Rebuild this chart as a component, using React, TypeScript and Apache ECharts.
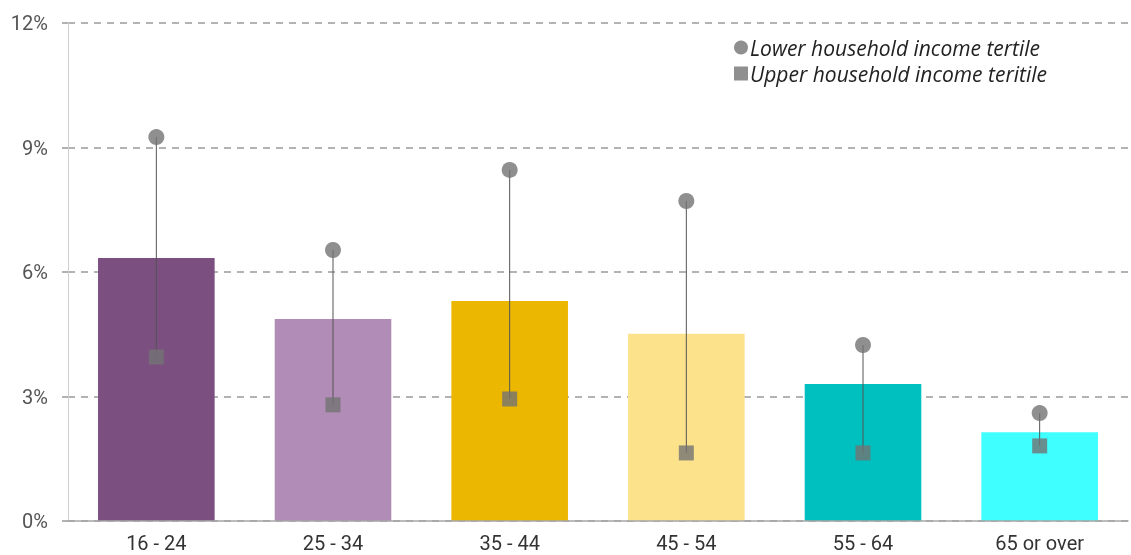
import React, { useEffect, useRef } from "react";
import * as echarts from "echarts";

const categories = ["16 - 24", "25 - 34", "35 - 44", "45 - 54", "55 - 64", "65 or over"];
const barValues = [6.34, 4.87, 5.3, 4.51, 3.3, 2.14];
const barColors = ["#7B4F80", "#B18CB6", "#EBB700", "#FDE28C", "#00BFBF", "#3FFFFF"];
const lowerTertile = [9.25, 6.53, 8.46, 7.71, 4.24, 2.6];
const upperTertile = [3.95, 2.8, 2.94, 1.64, 1.64, 1.81];
const yTicks = [0, 3, 6, 9, 12];

const FONT = "Roboto, 'Open Sans', sans-serif";

export default function App() {
  const ref = useRef<HTMLDivElement>(null);
  useEffect(() => {
    if (!ref.current) return;
    const chart = echarts.init(ref.current, null, { renderer: "svg" });
    const rangeData = categories.map((_, i) => [i, lowerTertile[i], upperTertile[i]]);
    chart.setOption({
      animation: false,
      textStyle: { fontFamily: FONT },
      grid: { left: 68, right: 3, top: 23, bottom: 34, containLabel: false },
      legend: {
        orient: "vertical",
        left: 729,
        top: 32,
        itemGap: 5,
        itemWidth: 14,
        itemHeight: 14,
        textStyle: {
          fontFamily: "'Open Sans', sans-serif",
          fontStyle: "italic",
          fontSize: 21,
          color: "#222",
          padding: [0, 0, 0, -3],
        },
        data: [
          { name: "Lower household income tertile", icon: "circle" },
          { name: "Upper household income teritile", icon: "rect" },
        ],
      },
      xAxis: {
        type: "category",
        data: categories,
        z: 5,
        axisLine: { show: true, lineStyle: { color: "#a6a6a6", width: 1.5 } },
        axisTick: { show: false },
        axisLabel: { color: "#333", fontSize: 20, margin: 12, fontFamily: FONT },
      },
      yAxis: {
        type: "value",
        min: 0,
        max: 12,
        interval: 3,
        axisLine: { show: true, lineStyle: { color: "#cfcfcf", width: 1 } },
        axisTick: { show: true, length: 6, lineStyle: { color: "#999", width: 1.5 } },
        axisLabel: {
          color: "#555",
          fontSize: 20,
          margin: 20,
          fontFamily: FONT,
          formatter: (v: number) => (yTicks.includes(v) ? v + "%" : ""),
        },
        splitLine: { show: true, lineStyle: { color: "#9a9a9a", type: [7, 6], width: 1.5 } },
      },
      series: [
        {
          type: "bar",
          name: "Total",
          barWidth: "66%",
          data: barValues.map((v, i) => ({ value: v, itemStyle: { color: barColors[i] } })),
          z: 2,
        },
        {
          type: "custom",
          name: "range",
          data: rangeData,
          z: 3,
          renderItem: (params: any, api: any) => {
            const p1 = api.coord([api.value(0), api.value(1)]);
            const p2 = api.coord([api.value(0), api.value(2)]);
            return {
              type: "line",
              shape: { x1: p1[0], y1: p1[1], x2: p2[0], y2: p2[1] },
              style: { stroke: "#555", lineWidth: 1 },
            };
          },
        },
        {
          type: "scatter",
          name: "Lower household income tertile",
          symbol: "circle",
          symbolSize: 16,
          itemStyle: { color: "#737373" },
          data: lowerTertile,
          z: 4,
        },
        {
          type: "scatter",
          name: "Upper household income teritile",
          symbol: "rect",
          symbolSize: 15,
          itemStyle: { color: "#737373" },
          data: upperTertile,
          z: 4,
        },
      ],
    });
    return () => chart.dispose();
  }, []);
  return <div ref={ref} style={{ position: "fixed", left: 0, top: 0, width: 1131, height: 555 }} />;
}
